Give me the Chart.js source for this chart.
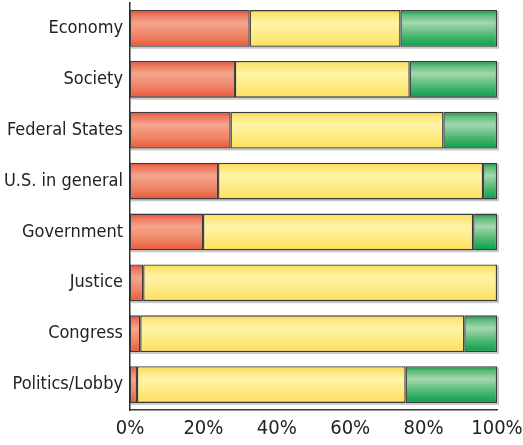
<!DOCTYPE html>
<html lang="en">
<head>
    <meta charset="UTF-8">
    <title>Opinion by area</title>
    <script src="https://cdn.jsdelivr.net/npm/chart.js"></script>
    <style>
        body {
            margin: 0;
            background: #fff;
        }
        .chart-box {
            width: 523px;
            height: 445px;
        }
    </style>
</head>
<body>
    <div class="chart-box">
        <canvas id="chart"></canvas>
    </div>

    <script>
        const categories = ['Economy', 'Society', 'Federal States', 'U.S. in general', 'Government', 'Justice', 'Congress', 'Politics/Lobby'];
        const negative = [32.6, 28.6, 27.4, 24.0, 19.9, 3.6, 2.8, 1.9];
        const neutral = [41.1, 47.6, 58.0, 72.2, 73.6, 96.4, 88.3, 73.2];
        const positive = [26.3, 23.8, 14.6, 3.8, 6.5, 0, 8.9, 24.9];
        const xTicks = [0, 20, 40, 60, 80, 100];

        const BAR_PCT = 0.72;
        const FONT = "'DejaVu Sans Condensed', 'Liberation Sans', sans-serif";

        // vertical gradient for each bar, darker at the edges, light band near the top
        function barFill(stops, solid) {
            return function (ctx) {
                const chart = ctx.chart;
                const y = chart.scales.y;
                if (!chart.chartArea || !y || ctx.dataIndex === undefined) return solid;
                const center = y.getPixelForValue(ctx.dataIndex);
                const half = (y.height / categories.length) * BAR_PCT / 2;
                const g = chart.ctx.createLinearGradient(0, center - half, 0, center + half);
                stops.forEach(s => g.addColorStop(s[0], s[1]));
                return g;
            };
        }

        const redStops = [[0, '#e4492f'], [0.12, '#ec765c'], [0.35, '#f5a58d'], [0.7, '#f08466'], [1, '#e8573a']];
        const yellowStops = [[0, '#fcd94a'], [0.12, '#fde676'], [0.35, '#fff3a8'], [0.7, '#feea80'], [1, '#fddf5a']];
        const greenStops = [[0, '#0b8f42'], [0.12, '#5cba79'], [0.35, '#a5d7b0'], [0.7, '#4cb670'], [1, '#07a04c']];

        const shadowPlugin = {
            id: 'barShadow',
            beforeDatasetsDraw(chart) {
                const c = chart.ctx;
                const meta = chart.getDatasetMeta(0);
                c.save();
                c.fillStyle = '#c8c8c8';
                meta.data.forEach(bar => {
                    const x0 = chart.scales.x.getPixelForValue(0);
                    const x1 = chart.scales.x.getPixelForValue(100);
                    const h = bar.height;
                    c.fillRect(x0 + 1, bar.y - h / 2 + 1, x1 - x0 + 1, h + 1);
                });
                c.restore();
            }
        };

        new Chart(document.getElementById('chart'), {
            type: 'bar',
            data: {
                labels: categories,
                datasets: [
                    { data: negative, backgroundColor: barFill(redStops, '#ee7b60') },
                    { data: neutral, backgroundColor: barFill(yellowStops, '#feea80') },
                    { data: positive, backgroundColor: barFill(greenStops, '#3fb065') }
                ]
            },
            plugins: [shadowPlugin],
            options: {
                indexAxis: 'y',
                responsive: true,
                maintainAspectRatio: false,
                animation: false,
                layout: { padding: { top: 3, right: 0, left: 0, bottom: 0 } },
                datasets: {
                    bar: {
                        categoryPercentage: 1,
                        barPercentage: BAR_PCT,
                        borderColor: '#3b3b3b',
                        borderWidth: 1.3,
                        borderSkipped: false
                    }
                },
                plugins: {
                    legend: { display: false },
                    tooltip: { enabled: false }
                },
                scales: {
                    x: {
                        stacked: true,
                        min: 0,
                        max: 100,
                        afterFit(scale) {
                            scale.height = 35;
                            scale.paddingLeft = 0;
                            scale.paddingRight = 26;
                        },
                        afterBuildTicks(scale) {
                            scale.ticks = xTicks.map(v => ({ value: v }));
                        },
                        grid: { display: false, drawTicks: false },
                        border: { display: true, color: '#3b3b3b', width: 1.5 },
                        ticks: {
                            maxRotation: 0,
                            padding: 7,
                            color: '#222',
                            font: { family: FONT, size: 20 },
                            callback: v => v + '%'
                        }
                    },
                    y: {
                        stacked: true,
                        afterFit(scale) {
                            scale.width = 130;
                            scale.paddingTop = 0;
                            scale.paddingBottom = 0;
                        },
                        grid: { display: false, drawTicks: false },
                        border: { display: true, color: '#2b2b2b', width: 1.5 },
                        ticks: {
                            padding: 7,
                            color: '#222',
                            font: { family: FONT, size: 18 }
                        }
                    }
                }
            }
        });
    </script>
</body>
</html>
